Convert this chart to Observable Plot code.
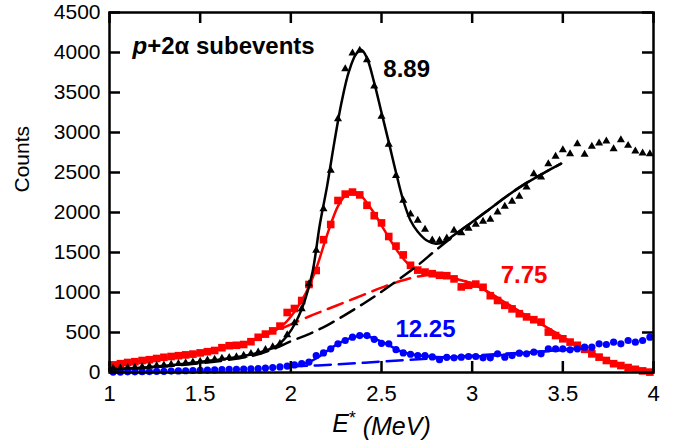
<!DOCTYPE html>
<html><head><meta charset="utf-8">
<script src="https://cdn.jsdelivr.net/npm/d3@7"></script>
<script src="https://cdn.jsdelivr.net/npm/@observablehq/plot@0.6"></script>
<style>body{margin:0;background:#fff}</style>
</head><body><div id="chart"></div>
<script>
// Excitation energy bins (MeV)
const energy = [
1.02,1.06,1.10,1.14,1.18,1.22,1.26,1.30,1.34,1.38,
1.42,1.46,1.50,1.54,1.58,1.62,1.66,1.70,1.74,1.78,
1.82,1.86,1.90,1.94,1.98,2.02,2.06,2.10,2.14,2.18,
2.22,2.26,2.30,2.34,2.38,2.42,2.46,2.50,2.54,2.58,
2.62,2.66,2.70,2.74,2.78,2.82,2.86,2.90,2.94,2.98,
3.02,3.06,3.10,3.14,3.18,3.22,3.26,3.30,3.34,3.38,
3.42,3.46,3.50,3.54,3.58,3.62,3.66,3.70,3.74,3.78,
3.82,3.86,3.90,3.94,3.98];
// 8.89 (black triangles)
const counts889 = [
50,55,60,65,70,78,85,92,100,110,
120,130,140,155,165,175,185,195,215,235,
255,285,320,360,470,620,796,1108,1525,2046,
2525,3171,3796,3991,4025,3908,3580,3200,2850,2460,
2150,1980,1900,1790,1655,1650,1680,1775,1745,1800,
1850,1890,1915,2005,2075,2140,2200,2317,2483,2441,
2608,2700,2783,2733,2858,2725,2825,2866,2891,2796,
2908,2837,2766,2741,2733];
// 7.75 (red squares)
const counts775 = [
95,110,125,135,150,160,175,190,200,210,
220,230,245,260,275,310,335,340,350,385,
440,480,520,580,750,800,900,1100,1275,1660,
1850,2150,2230,2255,2220,2090,1960,1870,1700,1580,
1470,1340,1280,1255,1235,1215,1210,1170,1070,1090,
1105,1065,960,900,840,795,735,695,660,630,
505,462,421,380,340,290,233,192,150,110,
87,62,40,20,5];
// 12.25 (blue circles)
const counts1225 = [
5,5,8,8,10,12,15,15,18,20,
22,25,28,30,32,35,38,40,42,45,
48,55,62,70,80,95,110,130,210,245,
296,358,400,442,462,462,415,365,358,285,
245,228,212,212,195,160,190,183,192,200,
200,183,183,233,192,212,242,233,254,233,
296,296,296,283,296,317,317,358,350,379,
358,400,379,400,442];

// Fit curves (solid) and backgrounds (dashed)
const fit889X = [1.0,1.2,1.4,1.6,1.7,1.78,1.85,1.92,1.98,2.03,2.08,2.12,2.16,2.2,2.24,2.28,2.32,2.36,2.39,2.42,2.46,2.5,2.54,2.58,2.62,2.66,2.7,2.75,2.8,2.85,2.9,3.0,3.1,3.2,3.3,3.4,3.49];
const fit889Y = [40,62,105,160,190,225,265,330,460,640,920,1260,1850,2330,2880,3380,3760,3980,4030,3930,3620,3250,2880,2500,2150,1900,1760,1650,1610,1640,1720,1880,2050,2220,2370,2500,2610];
const bg889X = [1.0,1.2,1.4,1.6,1.8,1.9,2.0,2.1,2.2,2.3,2.4,2.5,2.6,2.7,2.8,2.9,3.0,3.1,3.2,3.3,3.4,3.49];
const bg889Y = [40,60,95,140,215,290,390,480,590,720,860,1010,1170,1340,1530,1710,1880,2050,2220,2370,2500,2610];
const fit775X = [1.0,1.2,1.4,1.6,1.7,1.8,1.9,1.96,2.02,2.08,2.14,2.2,2.26,2.3,2.34,2.38,2.42,2.46,2.5,2.55,2.6,2.65,2.7,2.75,2.8,2.9,3.0,3.1,3.2,3.3,3.4,3.5,3.6,3.7,3.8,3.9,4.0];
const fit775Y = [95,150,210,290,340,410,510,600,760,980,1300,1720,2080,2210,2255,2225,2120,1990,1840,1650,1480,1350,1275,1240,1220,1175,1110,990,850,710,580,440,320,200,105,40,0];
const bg775X = [1.96,2.1,2.2,2.3,2.4,2.5,2.6,2.7,2.8,2.9,3.0,3.1,3.2,3.3,3.4,3.5,3.6,3.7,3.8,3.9,4.0];
const bg775Y = [560,700,790,880,970,1060,1140,1200,1220,1180,1110,990,850,710,580,440,320,200,105,40,0];
const fit1225X = [2.0,2.1,2.15,2.2,2.25,2.3,2.35,2.4,2.45,2.5,2.55,2.6,2.65,2.7,2.8,2.9,3.0,3.1,3.2,3.3,3.4,3.5,3.6];
const fit1225Y = [75,130,190,270,345,405,445,460,435,385,330,270,235,215,195,190,200,210,225,245,265,285,300];
const bg1225X = [2.0,2.25,2.5,2.75,3.0,3.25,3.5,3.6];
const bg1225Y = [75,100,137,172,210,245,280,300];

const xTicks = [1,1.5,2,2.5,3,3.5,4];
const yTicks = [0,500,1000,1500,2000,2500,3000,3500,4000,4500];
const peakLabels = ["8.89","7.75","12.25"];

const pts = (xs, ys) => xs.map((x, i) => ({x, y: ys[i]}));
const red = "#ff0000", blue = "#0000ff", black = "#000000";
const lw = 2.5, dash = "16,8";
const W = 683, H = 445, mL = 109, mR = 30, mT = 12, mB = 73;
const xDomain = [1, 4], yDomain = [0, 4500];
const tickPx = 11;
// tick length expressed in data units of each scale
const tickDX = tickPx * (xDomain[1] - xDomain[0]) / (W - mL - mR);
const tickDY = tickPx * (yDomain[1] - yDomain[0]) / (H - mT - mB);

const chart = Plot.plot({
  width: W, height: H,
  marginLeft: mL, marginRight: mR, marginTop: mT, marginBottom: mB,
  style: {fontFamily: "'Liberation Sans', Arial, Helvetica, sans-serif", fontSize: "21px", color: "#000", background: "#fff", overflow: "visible"},
  x: {domain: xDomain},
  y: {domain: yDomain},
  marks: [
    Plot.axisX({anchor: "bottom", ticks: xTicks, tickSize: 0, tickPadding: 13, tickFormat: d => String(d), label: null, fontSize: 22}),
    Plot.axisY({anchor: "left", ticks: yTicks, tickSize: 0, tickPadding: 9, tickFormat: d => String(d), label: null, fontSize: 21}),
    // red 7.75
    Plot.dot(pts(energy, counts775), {x: "x", y: "y", symbol: "square", r: 4.3, fill: red, stroke: null}),
    Plot.line(pts(bg775X, bg775Y), {x: "x", y: "y", stroke: red, strokeWidth: lw, strokeDasharray: dash, curve: "catmull-rom"}),
    Plot.line(pts(fit775X, fit775Y), {x: "x", y: "y", stroke: red, strokeWidth: lw, curve: "catmull-rom"}),
    // blue 12.25
    Plot.line(pts(fit1225X, fit1225Y), {x: "x", y: "y", stroke: blue, strokeWidth: lw, curve: "catmull-rom"}),
    Plot.dot(pts(energy, counts1225), {x: "x", y: "y", symbol: "circle", r: 3.6, fill: blue, stroke: null}),
    Plot.line(pts(bg1225X, bg1225Y), {x: "x", y: "y", stroke: blue, strokeWidth: lw, strokeDasharray: dash, curve: "catmull-rom"}),
    // black 8.89
    Plot.dot(pts(energy, counts889), {x: "x", y: "y", symbol: "triangle", r: 3.0, fill: black, stroke: null}),
    Plot.line(pts(bg889X, bg889Y), {x: "x", y: "y", stroke: black, strokeWidth: lw, strokeDasharray: dash, curve: "catmull-rom"}),
    Plot.line(pts(fit889X, fit889Y), {x: "x", y: "y", stroke: black, strokeWidth: lw, curve: "catmull-rom"}),
    // inward ticks on all four sides
    Plot.ruleX(xTicks, {x: d => d, y1: yDomain[0], y2: yDomain[0] + tickDY, stroke: black, strokeWidth: 2.5}),
    Plot.ruleX(xTicks, {x: d => d, y1: yDomain[1], y2: yDomain[1] - tickDY, stroke: black, strokeWidth: 2.5}),
    Plot.ruleY(yTicks, {y: d => d, x1: xDomain[0], x2: xDomain[0] + tickDX, stroke: black, strokeWidth: 2.5}),
    Plot.ruleY(yTicks, {y: d => d, x1: xDomain[1], x2: xDomain[1] - tickDX, stroke: black, strokeWidth: 2.5}),
    // labels
    Plot.text([peakLabels[0]], {x: 2.51, y: 3700, text: d => d, textAnchor: "start", lineAnchor: "bottom", fontSize: 24, fontWeight: "bold", fill: black}),
    Plot.text([peakLabels[1]], {x: 3.157, y: 1125, text: d => d, textAnchor: "start", lineAnchor: "bottom", fontSize: 24, fontWeight: "bold", fill: red}),
    Plot.text([peakLabels[2]], {x: 2.577, y: 450, text: d => d, textAnchor: "start", lineAnchor: "bottom", fontSize: 24, fontWeight: "bold", fill: blue}),
    Plot.text(["p+2α subevents"], {frameAnchor: "top-left", dx: 23, dy: 41, text: d => d, textAnchor: "start", lineAnchor: "bottom", fontSize: 24, fontWeight: "bold", fill: black}),
    Plot.text(["Counts"], {frameAnchor: "left", dx: -87, rotate: -90, text: d => d, fontSize: 21, fill: black}),
    Plot.text(["E* (MeV)"], {frameAnchor: "bottom", dy: 59, text: d => d, lineAnchor: "bottom", fontSize: 25, fill: black}),
    Plot.frame({stroke: black, strokeWidth: 2.5})
  ]
});
document.getElementById("chart").appendChild(chart);

// rich text styling
chart.querySelectorAll("text").forEach(t => {
  if (t.textContent === "p+2α subevents") {
    t.innerHTML = '<tspan font-style="italic">p</tspan>+2α subevents';
  } else if (t.textContent === "E* (MeV)") {
    t.innerHTML = '<tspan font-style="italic">E</tspan><tspan dy="-0.45em" font-size="0.7em">*</tspan><tspan dy="0.45em" font-style="italic"> (MeV)</tspan>';
  }
});
</script>
</body></html>
